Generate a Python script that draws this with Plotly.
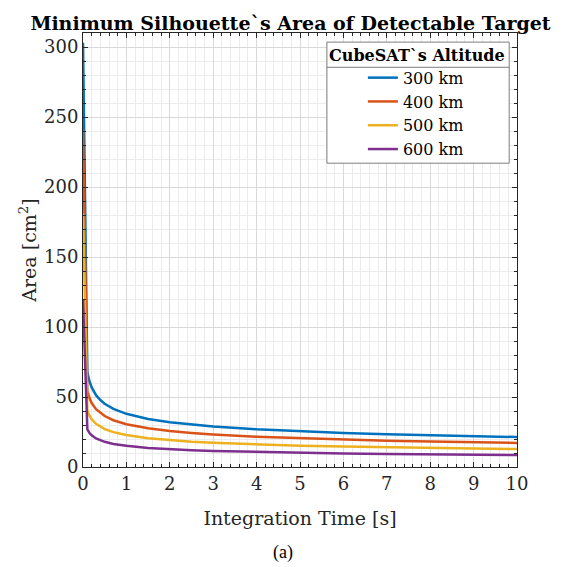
import plotly.graph_objects as go

# Integration time [s]
time_s = [0.0003, 0.1, 0.15, 0.2, 0.3, 0.4, 0.5, 0.7, 1, 1.5, 2, 2.5, 3, 4, 5, 6, 7, 8, 9, 10]

# Minimum silhouette area [cm^2] per altitude
area_300km = [303, 67.6, 61.1, 56.8, 51.3, 47.8, 45.2, 41.5, 38.0, 34.3, 32.0, 30.2, 28.9, 26.9, 25.4, 24.3, 23.4, 22.6, 21.9, 21.4]
area_400km = [241, 54.4, 49.2, 45.7, 41.3, 38.5, 36.4, 33.4, 30.6, 27.7, 25.7, 24.3, 23.2, 21.6, 20.5, 19.6, 18.8, 18.2, 17.7, 17.2]
area_500km = [181, 40.5, 36.6, 34.1, 30.8, 28.7, 27.1, 24.9, 22.8, 20.6, 19.2, 18.1, 17.3, 16.1, 15.2, 14.6, 14.0, 13.6, 13.2, 12.8]
area_600km = [120, 26.9, 24.3, 22.6, 20.4, 19.0, 18.0, 16.5, 15.1, 13.6, 12.7, 12.0, 11.5, 10.7, 10.1, 9.6, 9.3, 9.0, 8.7, 8.5]

series_names = ["300 km", "400 km", "500 km", "600 km"]
series_values = [area_300km, area_400km, area_500km, area_600km]
series_colors = ["#0072BD", "#D95319", "#EDB120", "#7E2F8E"]

x_ticks = list(range(0, 11))
y_ticks = [0, 50, 100, 150, 200, 250, 300]

FONT = "DejaVu Serif"

fig = go.Figure()
for name, vals, col in zip(series_names, series_values, series_colors):
    fig.add_trace(go.Scatter(x=time_s, y=vals, mode="lines", name=name,
                             line=dict(color=col, width=2.5)))

axis_common = dict(
    showline=True, linecolor="#262626", linewidth=1, mirror="ticks",
    ticks="inside", ticklen=5, tickcolor="#262626",
    showgrid=True, gridcolor="#d9d9d9", gridwidth=1,
    zeroline=False,
    tickfont=dict(family=FONT, size=18, color="#262626"),
)

fig.update_xaxes(
    range=[0, 10], tickvals=x_ticks, ticktext=[str(v) for v in x_ticks],
    minor=dict(dtick=0.2, ticks="inside", ticklen=3, tickcolor="#262626",
               showgrid=True, gridcolor="#ececec"),
    title=dict(text="Integration Time [s]", font=dict(family=FONT, size=19, color="#262626"), standoff=19),
    **axis_common,
)
fig.update_yaxes(
    range=[0, 310], tickvals=y_ticks, ticktext=[str(v) for v in y_ticks],
    minor=dict(dtick=10, ticks="inside", ticklen=3, tickcolor="#262626",
               showgrid=True, gridcolor="#ececec"),
    title=dict(text="Area [cm<sup>2</sup>]", font=dict(family=FONT, size=19, color="#262626"), standoff=2),
    **axis_common,
)

# legend frame (box + separator under the legend title)
LEG_X0, LEG_X1, LEG_Y0, LEG_Y1, LEG_SEP = 0.562, 0.982, 0.700, 0.979, 0.921

fig.update_layout(
    width=565, height=559,
    margin=dict(l=75, r=56, t=25, b=100),
    paper_bgcolor="white", plot_bgcolor="white",
    title=dict(text="<b>Minimum Silhouette`s Area of Detectable Target</b>",
               x=0.5, xanchor="center", y=0.972, yanchor="middle",
               font=dict(family=FONT, size=19, color="#000000")),
    legend=dict(
        x=0.562, y=0.984, xanchor="left", yanchor="top",
        bgcolor="rgba(0,0,0,0)", borderwidth=0,
        font=dict(family=FONT, size=16, color="#000000"),
        title=dict(text="<b>CubeSAT`s Altitude</b>", side="top center",
                   font=dict(family=FONT, size=16, color="#000000")),
        indentation=36,
        tracegroupgap=0,
    ),
    shapes=[
        dict(type="rect", xref="paper", yref="paper", x0=LEG_X0, x1=LEG_X1,
             y0=LEG_Y0, y1=LEG_Y1, layer="above", fillcolor="white",
             line=dict(color="#7f7f7f", width=1)),
        dict(type="line", xref="paper", yref="paper", x0=LEG_X0, x1=LEG_X1,
             y0=LEG_SEP, y1=LEG_SEP, layer="above", line=dict(color="#7f7f7f", width=1)),
    ],
    annotations=[dict(text="(a)", xref="paper", yref="paper", x=0.461, y=-0.196,
                      xanchor="center", yanchor="middle", showarrow=False,
                      font=dict(family="Liberation Serif", size=18, color="#000000"))],
)

fig.write_html("out.html")
